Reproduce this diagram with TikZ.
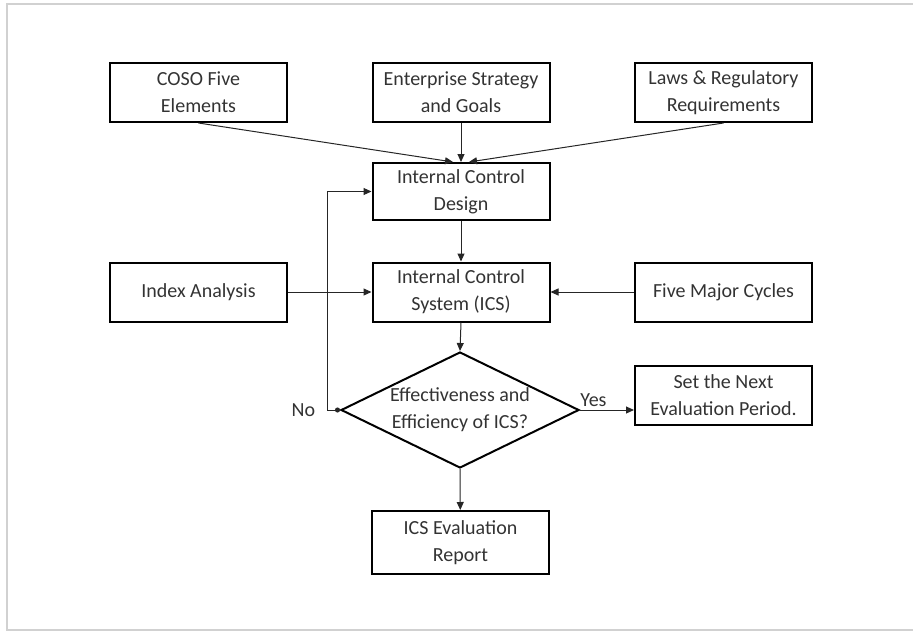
\documentclass[tikz,border=0pt]{standalone}
\usepackage{fontspec}
\setmainfont{Carlito}
\usetikzlibrary{arrows.meta}
\usetikzlibrary{shapes.geometric}

\begin{document}
\begin{tikzpicture}[x=1pt, y=-1pt,
    box/.style={draw, line width=2pt, minimum width=177pt, minimum height=59pt, align=center, inner sep=2pt, text=black!80, font=\fontsize{20}{27}\selectfont},
    decision/.style={draw, diamond, line width=2pt, minimum width=238pt, minimum height=116pt, inner sep=0pt},
    link/.style={line width=1pt, black!85, -{Triangle[length=8pt, width=7pt]}},
    tag/.style={text=black!80, font=\fontsize{20}{24}\selectfont}]
    \useasboundingbox (0,0) rectangle (913,632);
    \draw[black!18, line width=1.5pt] (7,4) rectangle (916,630);

    \node[box] (coso) at (198.5,92.5) {COSO Five\\Elements};
    \node[box] (goals) at (461,92.5) {Enterprise Strategy\\and Goals};
    \node[box] (laws) at (723.5,92.5) {Laws \& Regulatory\\Requirements};
    \node[box, minimum height=57pt] (design) at (461,191.5) {Internal Control\\Design};
    \node[box] (index) at (198.5,292) {Index Analysis};
    \node[box] (ics) at (461,292) {Internal Control\\System (ICS)};
    \node[box] (cycles) at (723.5,292) {Five Major Cycles};
    \node[decision, label={[tag, align=center, font=\fontsize{20}{27}\selectfont]center:Effectiveness and\\Efficiency of ICS?}] (check) at (460,410) {};
    \node[box] (next) at (723.5,395.5) {Set the Next\\Evaluation Period.};
    \node[box, minimum height=63pt] (report) at (460.5,542.5) {ICS Evaluation\\Report};

    \draw[link] (coso.south) -- ([xshift=-8pt]design.north);
    \draw[link] (goals) -- (design);
    \draw[link] (laws.south) -- ([xshift=8pt]design.north);
    \draw[link] (design) -- (ics);
    \draw[link] (index) -- (ics);
    \draw[link] (cycles) -- (ics);
    \draw[link] (ics.south) -- (check.north);
    \draw[link] (check.south) -- (report);
    \draw[link] (check.east) -- node[tag, above, pos=0.25] {Yes} (check.east -| next.west);
    \draw[link, {Circle[length=5pt]}-{Triangle[length=8pt, width=7pt]}] (check.west) -- ++(-13,0) node[tag, left=8pt] {No} |- (design.west);
\end{tikzpicture}
\end{document}
